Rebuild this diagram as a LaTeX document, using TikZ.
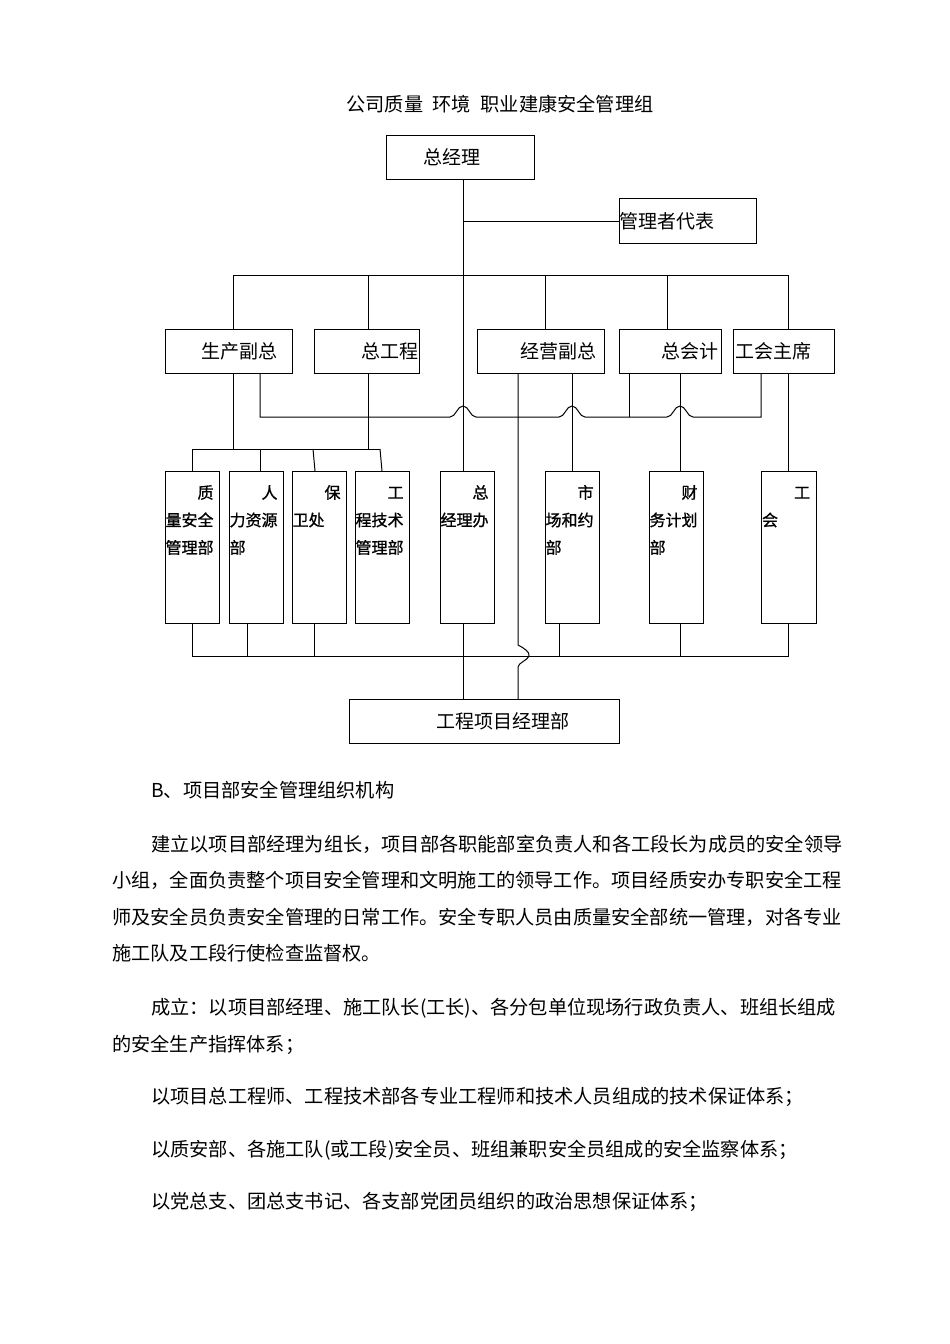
\documentclass[tikz,border=0pt]{standalone}
\usepackage{fontspec}
\setmainfont{Noto Sans CJK SC}
\newfontfamily\cjkbold[FakeBold=1]{Noto Sans CJK SC}
\newcommand\bl[3]{\makebox[#1pt][l]{\hspace*{#2pt}#3}}
\newcommand\dl[2]{\parbox[c][152pt][t]{54pt}{\cjkbold\fontsize{16}{27.5}\selectfont\rule{0pt}{27pt}\hfill #1\kern6pt\\#2}}
\begin{document}
\begin{tikzpicture}[x=1pt,y=-1pt,
  ln/.style={line width=1pt,draw=black},
  bx/.style={draw=black,line width=1.1pt,inner sep=0pt,anchor=north west,font=\fontsize{19}{22}\selectfont},
  dept/.style={draw=black,line width=1.1pt,inner sep=0pt,anchor=north west,minimum width=54pt,minimum height=152pt},
  para/.style={anchor=west,inner sep=0pt,font=\fontsize{19.2}{23}\selectfont},
  ttl/.style={inner sep=0pt,font=\fontsize{19.2}{23}\selectfont}]
\useasboundingbox[fill=white] (0,0) rectangle (950,1344);

% title
\node[ttl] (title) at (500,104) {公司质量\hspace{9.5pt}环境\hspace{9.5pt}职业建康安全管理组};

% top boxes
\node[bx,minimum width=148pt,minimum height=44pt] (zjl) at (386,135) {\bl{148}{37}{总经理}};
\node[bx,minimum width=137pt,minimum height=45pt] (gldb) at (619,198) {\bl{137}{0}{管理者代表}};

% second row
\node[bx,minimum width=127pt,minimum height=44pt] (scfz) at (165,329) {\bl{127}{36}{生产副总}};
\node[bx,minimum width=105pt,minimum height=44pt] (zgc) at (314,329) {\bl{105}{47}{总工程}};
\node[bx,minimum width=127pt,minimum height=44pt] (jyfz) at (477,329) {\bl{127}{43}{经营副总}};
\node[bx,minimum width=102pt,minimum height=44pt] (zkj) at (619,329) {\bl{102}{42}{总会计}};
\node[bx,minimum width=101pt,minimum height=44pt] (ghzx) at (733,329) {\bl{101}{2}{工会主席}};

% third row
\node[dept] (zlb) at (165,471) {\dl{质}{量安全\\管理部}};
\node[dept] (rlb) at (229,471) {\dl{人}{力资源\\部}};
\node[dept] (bwc) at (292,471) {\dl{保}{卫处}};
\node[dept] (gcb) at (355,471) {\dl{工}{程技术\\管理部}};
\node[dept] (zjb) at (440,471) {\dl{总}{经理办}};
\node[dept] (scb) at (545,471) {\dl{市}{场和约\\部}};
\node[dept] (cwb) at (649,471) {\dl{财}{务计划\\部}};
\node[dept,minimum width=55pt] (gh) at (761,471) {\dl{工}{会}};

% bottom box
\node[bx,minimum width=270pt,minimum height=44pt] (xm) at (349,699) {\bl{270}{87}{工程项目经理部}};

% main vertical
\draw[ln] (zjl.south -| 463,0) -- (zjb.north -| 463,0);
\draw[ln] (zjb.south -| 463,0) -- (xm.north -| 463,0);
\draw[ln] (gldb.west) -- (gldb.west -| 463,0);

% top bus
\draw[ln] (scfz.north -| 233,0) -- (233,275) -- (788,275) -- (ghzx.north -| 788,0);
\draw[ln] (zgc.north -| 368,0) -- (368,275);
\draw[ln] (jyfz.north -| 545,0) -- (545,275);
\draw[ln] (zkj.north -| 667,0) -- (667,275);

% sub bus for production group
\draw[ln] (scfz.south -| 233,0) -- (233,449);
\draw[ln] (zgc.south -| 368,0) -- (368,449);
\draw[ln] (192,449) -- (380,449);
\draw[ln] (192,449) -- (zlb.north -| 192,0);
\draw[ln] (260,449) -- (rlb.north -| 260,0);
\draw[ln] (313,449) -- (bwc.north -| 315,0);
\draw[ln] (380,449) -- (gcb.north -| 382,0);

% cross line with hops
\draw[ln] (scfz.south -| 260,0) -- (260,417) -- (450,417)
  .. controls (456,417) and (457,406) .. (463,406)
  .. controls (469,406) and (470,417) .. (476,417) -- (559,417)
  .. controls (565,417) and (566,406) .. (572,406)
  .. controls (578,406) and (579,417) .. (585,417) -- (667,417)
  .. controls (673,417) and (674,406) .. (680,406)
  .. controls (686,406) and (687,417) .. (693,417) -- (761,417) -- (ghzx.south -| 761,0);
\draw[ln] (zkj.south -| 629,0) -- (629,417);

% verticals to departments
\draw[ln] (jyfz.south -| 572,0) -- (scb.north -| 572,0);
\draw[ln] (zkj.south -| 680,0) -- (cwb.north -| 680,0);
\draw[ln] (ghzx.south -| 788,0) -- (gh.north -| 788,0);

% long line from jyfz to project dept with hop
\draw[ln] (jyfz.south -| 518,0) -- (518,645)
  .. controls (524,648) and (530,652) .. (529,656)
  .. controls (528,660) and (518,663) .. (518,667) -- (xm.north -| 518,0);

% bottom bus
\draw[ln] (zlb.south -| 192,0) -- (192,656) -- (788,656) -- (gh.south -| 788,0);
\draw[ln] (rlb.south -| 247,0) -- (247,656);
\draw[ln] (bwc.south -| 314,0) -- (314,656);
\draw[ln] (scb.south -| 559,0) -- (559,656);
\draw[ln] (cwb.south -| 680,0) -- (680,656);

% text
\node[para] (b) at (151,790) {B、项目部安全管理组织机构};
\node[para] (p1) at (151,844) {建立以项目部经理为组长，项目部各职能部室负责人和各工段长为成员的安全领导};
\node[para] (p2) at (112,880) {小组，全面负责整个项目安全管理和文明施工的领导工作。项目经质安办专职安全工程};
\node[para] (p3) at (112,917) {师及安全员负责安全管理的日常工作。安全专职人员由质量安全部统一管理，对各专业};
\node[para] (p4) at (112,953) {施工队及工段行使检查监督权。};
\node[para] (p5) at (151,1008) {成立：以项目部经理、施工队长(工长)、各分包单位现场行政负责人、班组长组成};
\node[para] (p6) at (112,1045) {的安全生产指挥体系；};
\node[para] (p7) at (151,1097) {以项目总工程师、工程技术部各专业工程师和技术人员组成的技术保证体系；};
\node[para] (p8) at (151,1150) {以质安部、各施工队(或工段)安全员、班组兼职安全员组成的安全监察体系；};
\node[para] (p9) at (151,1202) {以党总支、团总支书记、各支部党团员组织的政治思想保证体系；};
\end{tikzpicture}
\end{document}
